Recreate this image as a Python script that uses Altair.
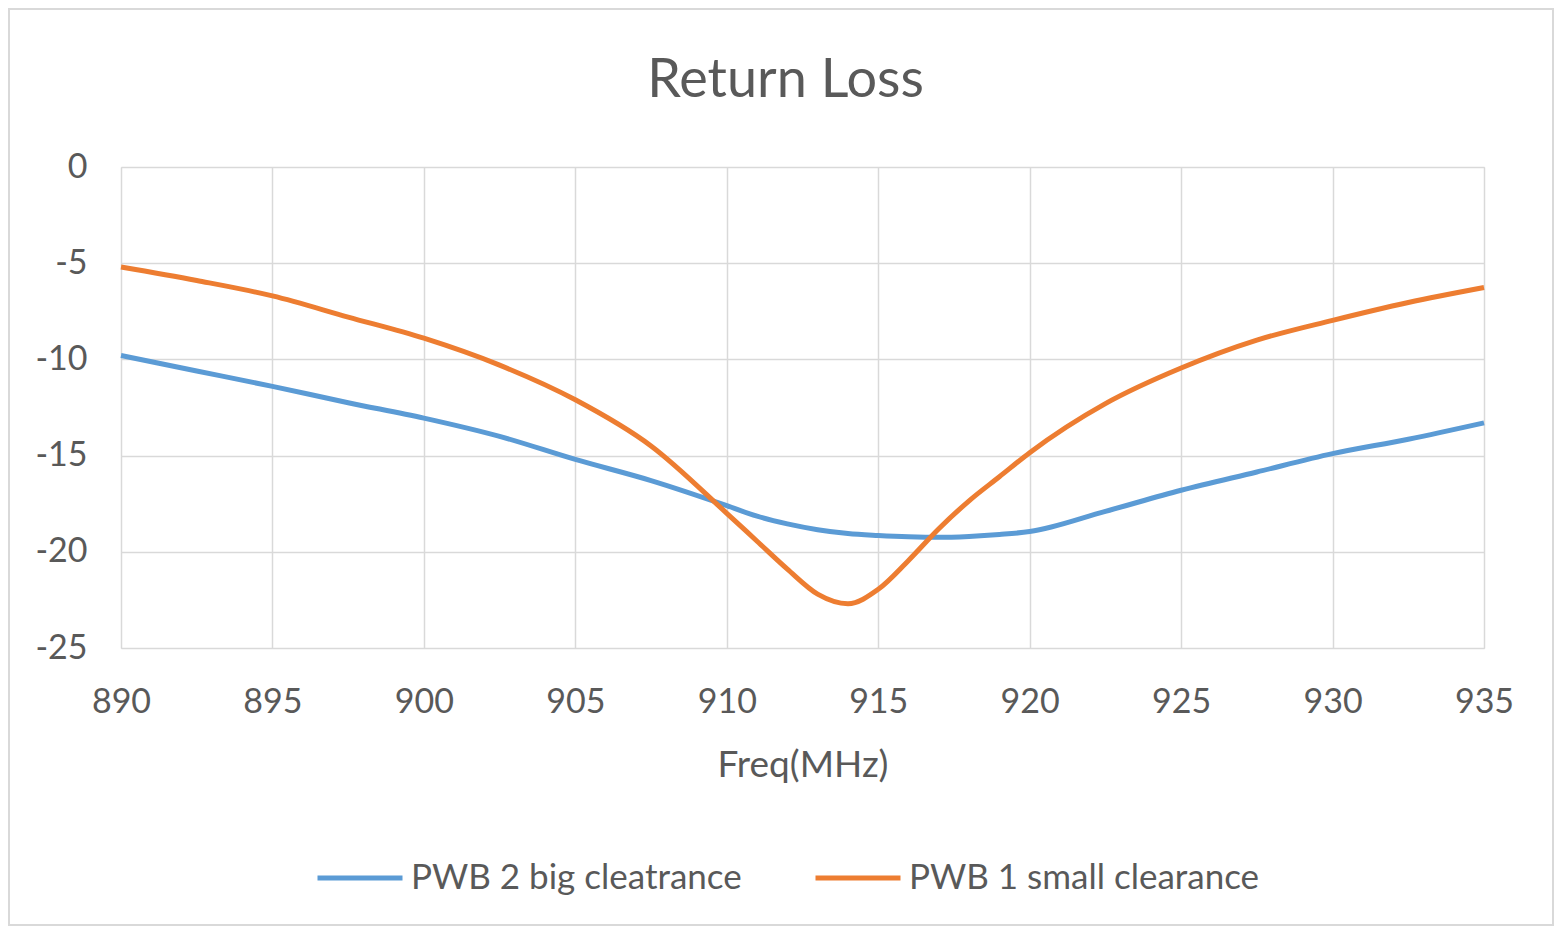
import altair as alt
import pandas as pd

freq = [890, 892.5, 895, 897.5, 900, 902.5, 905, 907.5, 910, 911, 912, 913, 914,
        915, 916, 917, 918, 919, 920, 922.5, 925, 927.5, 930, 932.5, 935]
pwb2_big = [-9.8, -10.6, -11.4, -12.25, -13.05, -14.0, -15.2, -16.3, -17.6, -18.15,
            -18.55, -18.85, -19.05, -19.15, -19.22, -19.25, -19.2, -19.1, -18.95,
            -17.9, -16.8, -15.85, -14.9, -14.15, -13.3]
pwb1_small = [-5.2, -5.9, -6.7, -7.8, -8.9, -10.3, -12.1, -14.5, -18.0, -19.45,
              -20.9, -22.2, -22.7, -21.95, -20.45, -18.8, -17.35, -16.1, -14.85,
              -12.3, -10.45, -9.0, -7.97, -7.04, -6.26]
series_names = ["PWB 2 big cleatrance", "PWB 1 small clearance"]
series_colors = ["#5B9BD5", "#ED7D31"]

rows = []
for f, v in zip(freq, pwb2_big):
    rows.append({"freq": f, "rl": v, "series": series_names[0]})
for f, v in zip(freq, pwb1_small):
    rows.append({"freq": f, "rl": v, "series": series_names[1]})
df = pd.DataFrame(rows)

FONT = "Lato"
TXT = "#595959"
W, H = 1363, 481
PAD_L, PAD_T, PAD_R, PAD_B = 113, 159, 70, 278

lines = alt.Chart(df).mark_line(strokeWidth=5, interpolate="monotone").encode(
    x=alt.X("freq:Q", scale=alt.Scale(domain=[890, 935], nice=False, zero=False),
            axis=alt.Axis(values=list(range(890, 936, 5)), title="Freq(MHz)",
                          labelFontSize=34, labelColor=TXT, labelFont=FONT,
                          labelPadding=37, ticks=False, domain=False,
                          labelFlush=False,
                          gridColor="#D9D9D9", gridWidth=1.5,
                          titleFont=FONT, titleFontSize=37, titleColor=TXT,
                          titleFontWeight="normal", titlePadding=28)),
    y=alt.Y("rl:Q", scale=alt.Scale(domain=[-25, 0], nice=False, zero=False),
            axis=alt.Axis(values=[0, -5, -10, -15, -20, -25], title=None,
                          labelExpr="datum.value + ''",
                          labelFontSize=34, labelColor=TXT, labelFont=FONT,
                          labelPadding=34, ticks=False, domain=False,
                          gridColor="#D9D9D9", gridWidth=1.5)),
    color=alt.Color("series:N",
                    scale=alt.Scale(domain=series_names, range=series_colors),
                    sort=series_names,
                    legend=alt.Legend(title=None, orient="none", direction="horizontal",
                                      legendX=194, legendY=666,
                                      symbolType="stroke", symbolSize=7225,
                                      symbolStrokeWidth=5, labelFontSize=35,
                                      labelFont=FONT, labelColor=TXT,
                                      labelOffset=6, columnPadding=63,
                                      labelLimit=600)),
)

border = alt.Chart(pd.DataFrame({"a": [0]})).mark_rect(
    fill=None, stroke="#D9D9D9", strokeWidth=2
).encode(
    x=alt.value(-PAD_L + 1), x2=alt.value(W + PAD_R - 1),
    y=alt.value(-PAD_T + 1), y2=alt.value(H + PAD_B - 1),
)

chart = alt.layer(border, lines).properties(
    width=W, height=H,
    title=alt.TitleParams("Return Loss", font=FONT, fontSize=54, color=TXT,
                          fontWeight="normal", anchor="middle", dx=-17, offset=-100),
    autosize=alt.AutoSizeParams(type="none"),
    padding={"left": PAD_L, "top": PAD_T, "right": PAD_R, "bottom": PAD_B},
).configure_view(stroke=None).configure(background="white")

chart.save("out.html", embed_options={"renderer": "svg", "actions": False})
